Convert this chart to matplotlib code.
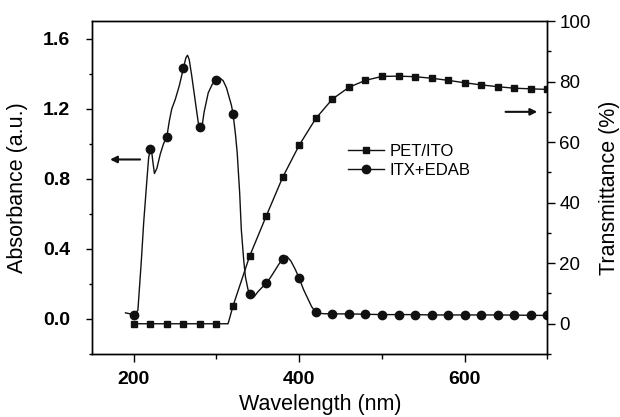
import matplotlib
matplotlib.use("Agg")
import matplotlib.pyplot as plt
from matplotlib.ticker import MultipleLocator

plt.rcParams['font.family'] = ['Liberation Sans', 'DejaVu Sans']

# ITX+EDAB absorbance (left axis)
itx_nm = [190, 195, 200, 205, 209, 212, 216, 218, 220, 221, 223, 225, 228, 232, 236,
          240, 243, 246, 250, 255, 260, 263, 265, 267, 270, 275, 278, 280, 282, 285,
          290, 295, 300, 304, 308, 312, 315, 318, 320, 323, 325, 328, 330, 333, 335,
          338, 340, 343, 346, 350, 355, 360, 365, 370, 375, 380, 385, 390, 395, 400,
          405, 410, 415, 420, 425, 430, 440, 460, 480, 500, 520, 540, 560, 580, 600,
          620, 640, 660, 680, 700]
itx_abs = [0.035, 0.03, 0.02, 0.05, 0.32, 0.55, 0.80, 0.92, 0.97, 0.985, 0.90, 0.83, 0.86, 0.94, 1.00,
           1.04, 1.13, 1.20, 1.25, 1.33, 1.43, 1.49, 1.505, 1.48, 1.39, 1.22, 1.12, 1.095, 1.08, 1.18,
           1.29, 1.34, 1.363, 1.375, 1.36, 1.32, 1.27, 1.22, 1.171, 1.05, 0.95, 0.72, 0.51, 0.33, 0.24,
           0.17, 0.145, 0.123, 0.13, 0.155, 0.18, 0.203, 0.235, 0.272, 0.31, 0.343, 0.358, 0.33, 0.285, 0.232,
           0.17, 0.12, 0.07, 0.04, 0.032, 0.03, 0.029, 0.029, 0.027, 0.025, 0.025, 0.025, 0.023, 0.023, 0.023,
           0.023, 0.023, 0.022, 0.021, 0.02]

# PET/ITO transmittance (right axis)
pet_nm = [200, 220, 240, 260, 280, 300, 314, 320, 340, 360, 380, 400, 420, 440, 460,
          480, 500, 520, 540, 560, 580, 600, 620, 640, 660, 680, 700]
pet_T = [0, 0, 0, 0, 0, 0, 0, 5.9, 22.3, 35.5, 48.4, 59.0, 67.8, 74.2, 78.1,
         80.4, 81.7, 81.8, 81.6, 81.1, 80.4, 79.6, 78.9, 78.3, 77.8, 77.6, 77.4]

c = '#111111'

fig = plt.figure(figsize=(6.2, 4.17), dpi=100)
ax = fig.add_axes([0.149, 0.151, 0.734, 0.7986])
ax2 = ax.twinx()

itx_marks = [i for i, w in enumerate(itx_nm) if w >= 200 and w % 20 == 0]
pet_marks = [i for i, w in enumerate(pet_nm) if w % 20 == 0]

l1, = ax.plot(itx_nm, itx_abs, color=c, lw=1.0, marker='o', ms=6,
              markevery=itx_marks, label='ITX+EDAB')
l2, = ax2.plot(pet_nm, pet_T, color=c, lw=1.0, marker='s', ms=5,
               markevery=pet_marks, label='PET/ITO')

ax.set_xlim(150, 700)
ax.set_ylim(-0.2, 1.7)
ax2.set_ylim(-10, 100)

ax.xaxis.set_major_locator(MultipleLocator(200))
ax.xaxis.set_minor_locator(MultipleLocator(100))
ax.yaxis.set_minor_locator(MultipleLocator(0.2))
ax2.yaxis.set_major_locator(MultipleLocator(20))
ax2.yaxis.set_minor_locator(MultipleLocator(10))
ax.set_yticks([0.0, 0.4, 0.8, 1.2, 1.6])
ax.set_yticklabels(['0.0', '0.4', '0.8', '1.2', '1.6'])

ax.tick_params(axis='x', which='major', direction='out', length=6, width=1, labelsize=14, pad=6)
ax.tick_params(axis='x', which='minor', direction='out', length=3.5, width=1)
ax.tick_params(axis='y', which='major', direction='out', length=4, width=1, labelsize=14, pad=12)
ax.tick_params(axis='y', which='minor', direction='out', length=2.5, width=1)
ax2.tick_params(axis='y', which='major', direction='out', length=5.5, width=1, labelsize=13.5, pad=3)
ax2.tick_params(axis='y', which='minor', direction='out', length=3, width=1)
for lab in ax.get_xticklabels() + ax.get_yticklabels():
    lab.set_fontweight('bold')

for a in (ax, ax2):
    for s in a.spines.values():
        s.set_linewidth(1.0)

ax.set_xlabel('Wavelength (nm)', fontsize=15.5)
ax.set_ylabel('Absorbance (a.u.)', fontsize=15.5)
ax2.set_ylabel('Transmittance (%)', fontsize=15.5)
ax.xaxis.set_label_coords(0.5, -0.12)
ax.yaxis.set_label_coords(-0.141, 0.5)
ax2.yaxis.set_label_coords(1.114, 0.5)

# direction arrows
ax.annotate('', xy=(168, 0.91), xytext=(211, 0.91),
            arrowprops=dict(arrowstyle='-|>', color=c, lw=1.5, mutation_scale=10))
ax2.annotate('', xy=(691, 70), xytext=(646, 70),
             arrowprops=dict(arrowstyle='-|>', color=c, lw=1.5, mutation_scale=10))

fig.legend(handles=[l2, l1], loc='upper left', bbox_to_anchor=(0.55, 0.67),
           frameon=False, fontsize=12, handlelength=2.2, handletextpad=0.3,
           labelspacing=0.2, borderaxespad=0)

fig.savefig('out.png', dpi=100)
